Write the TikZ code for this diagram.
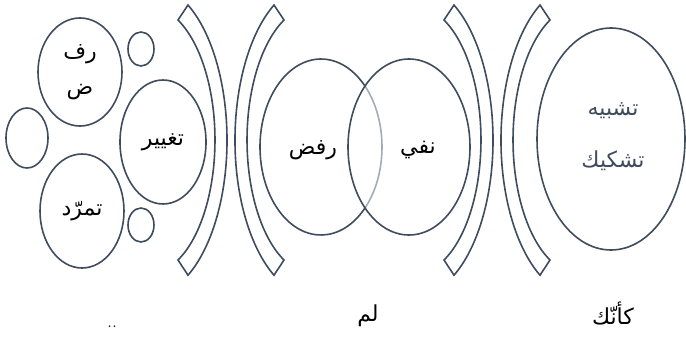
\documentclass[tikz,border=0pt]{standalone}
\usepackage{fontspec}
\usetikzlibrary{shapes.geometric}
\TeXXeTstate=1
\newfontfamily\arabicfont[Script=Arabic]{DejaVu Sans}
\definecolor{RimSlate}{HTML}{3E4C5E}
\definecolor{RimLight}{HTML}{A3ACB6}
\newcommand{\artxt}[1]{{\arabicfont\beginR #1\endR}}

\begin{document}
\begin{tikzpicture}[x=1pt,y=-1pt,
  rim/.style={draw=RimSlate,line width=1.6pt},
  blob/.style={rim,ellipse,inner sep=0pt},
  word/.style={font=\fontsize{22}{26}\selectfont}]
\useasboundingbox (0,0) rectangle (686,340);
% left cluster
\node[blob,word,align=center,minimum width=84,minimum height=108] (rfd) at (80,72) {\artxt{رف}\\[10pt]\artxt{ض}};
\node[blob,minimum width=26,minimum height=34] (dotA) at (141,49) {};
\node[blob,minimum width=42,minimum height=60] (dotB) at (27,138) {};
\node[blob,word,minimum width=86,minimum height=124] (tghyr) at (163,142) {\artxt{تغيير}};
\node[blob,word,minimum width=84,minimum height=114] (tmrd) at (82,211) {\artxt{تمرّد}};
\node[blob,minimum width=26,minimum height=34] (dotC) at (141,225) {};
% brackets
\foreach \m in {231,497}{
  \foreach \s in {1,-1}{
    \draw[rim,shift={(\m,0)},xscale=\s] (-43,5) arc[start angle=-60,end angle=60,x radius=78,y radius=156]
      -- (-53,260) arc[start angle=63.9,end angle=-63.9,x radius=66,y radius=133.6] -- cycle;
  }
}
% overlap
\draw[rim] (321,147) ++(43.8:61 and 88) arc[start angle=43.8,end angle=316.2,x radius=61,y radius=88];
\draw[rim,draw=RimLight] (321,147) ++(-43.8:61 and 88) arc[start angle=-43.8,end angle=43.8,x radius=61,y radius=88];
\node[blob,minimum width=122,minimum height=176] (venR) at (409,147) {};
\node[word] (rafd) at (313,150) {\artxt{رفض}};
\node[word] (nafy) at (418,150) {\artxt{نفي}};
% right
\node[blob,minimum width=148,minimum height=222] (shbh) at (611,139) {};
\node[word,text=RimSlate] (tashbih) at (613,111) {\artxt{تشبيه}};
\node[word,text=RimSlate] (tashkik) at (613,161) {\artxt{تشكيك}};
% captions
\node[font=\fontsize{20}{22}\selectfont] (dots) at (112,327) {..};
\node[word] (lam) at (368,316) {\artxt{لم}};
\node[word] (kaannaka) at (613,313) {\artxt{كأنّك}};
\end{tikzpicture}
\end{document}
